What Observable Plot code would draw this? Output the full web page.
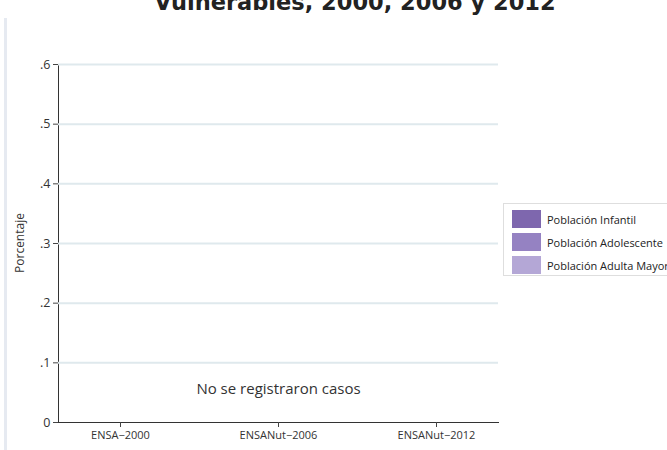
<!DOCTYPE html>
<html>
<head>
<meta charset="utf-8">
<script src="https://cdn.jsdelivr.net/npm/d3@7"></script>
<script src="https://cdn.jsdelivr.net/npm/@observablehq/plot@0.6"></script>
<style>
  html, body { margin: 0; padding: 0; background: #fff; }
  #wrap { position: relative; width: 667px; height: 450px; overflow: hidden; font-family: "Open Sans", sans-serif; }
  #title { position: absolute; left: 0; width: 710px; top: -11px; text-align: center; font-family: "DejaVu Sans", sans-serif; font-weight: bold; font-size: 22.5px; color: #222; white-space: nowrap; }
  #border { position: absolute; left: 4px; top: 18px; width: 3px; height: 432px; background: #e6eaf1; }
  #chart { position: absolute; left: 0; top: 0; }
  #legend { position: absolute; left: 503px; top: 203px; width: 180px; height: 73px; border: 1px solid #dedede; background: #fff; box-sizing: border-box; }
  .row { position: absolute; left: 8px; height: 18px; display: flex; align-items: center; font-size: 11px; color: #222; white-space: nowrap; }
  .sw { width: 29px; height: 18px; margin-right: 6px; }
</style>
</head>
<body>
<div id="wrap">
  <div id="border"></div>
  <div id="chart"></div>
  <div id="title"></div>
  <div id="legend"></div>
</div>
<script>
const titleText = "Vulnerables, 2000, 2006 y 2012";
const surveys = ["ENSA\u22122000", "ENSANut\u22122006", "ENSANut\u22122012"];
const groups = ["Población Infantil", "Población Adolescente", "Población Adulta Mayor"];
const colors = ["#7e67ae", "#9582c2", "#b4a7d6"];
const valuesInfantil = [0, 0, 0];
const valuesAdolescente = [0, 0, 0];
const valuesAdultaMayor = [0, 0, 0];
const yTicks = [0, 0.1, 0.2, 0.3, 0.4, 0.5, 0.6];
const yLabel = "Porcentaje";
const note = "No se registraron casos";

document.getElementById("title").textContent = titleText;

const series = [valuesInfantil, valuesAdolescente, valuesAdultaMayor];
const data = [];
surveys.forEach((s, i) => groups.forEach((g, j) => data.push({survey: s, group: g, value: series[j][i]})));

const fmt = d => d === 0 ? "0" : d3.format(".1f")(d).replace(/^0/, "");

const chart = Plot.plot({
  width: 667,
  height: 450,
  marginLeft: 58,
  marginRight: 169,
  marginTop: 64,
  marginBottom: 28,
  style: { fontFamily: "Open Sans, sans-serif", fontSize: "12.5px", color: "#333", background: "transparent" },
  x: { type: "point", domain: surveys, padding: 0.384, label: null, tickSize: 5, tickPadding: 4, line: true },
  y: { domain: [0, 0.6], ticks: yTicks, tickFormat: fmt, tickSize: 5, tickPadding: 3, label: null, line: true },
  color: { domain: groups, range: colors },
  marks: [
    Plot.ruleY(yTicks.filter(d => d > 0), { stroke: "#dfe9ed", strokeWidth: 2 }),
    Plot.dot(data.filter(d => d.value > 0), { x: "survey", y: "value", fill: "group" }),
    Plot.text([note], { x: () => surveys[1], y: () => 0.055, text: d => d, fontSize: 15, fill: "#333" })
  ]
});
document.getElementById("chart").appendChild(chart);

d3.select(chart).selectAll('g[aria-label="x-axis tick label"] text, g[aria-label="x-axis"] text').attr("font-size", 11);
d3.select(chart).selectAll('g[aria-label="x-axis tick"] path, g[aria-label="y-axis tick"] path').attr("stroke", "#444");

// y-axis title
d3.select(chart).append("text")
  .attr("transform", `translate(24,${(64 + 422) / 2}) rotate(-90)`)
  .attr("text-anchor", "middle")
  .attr("font-size", 12)
  .attr("fill", "#333")
  .text(yLabel);

const legend = document.getElementById("legend");
groups.forEach((g, i) => {
  const row = document.createElement("div");
  row.className = "row";
  row.style.top = (6 + i * 23) + "px";
  row.innerHTML = `<div class="sw" style="background:${colors[i]}"></div><span>${g}</span>`;
  legend.appendChild(row);
});
</script>
</body>
</html>
